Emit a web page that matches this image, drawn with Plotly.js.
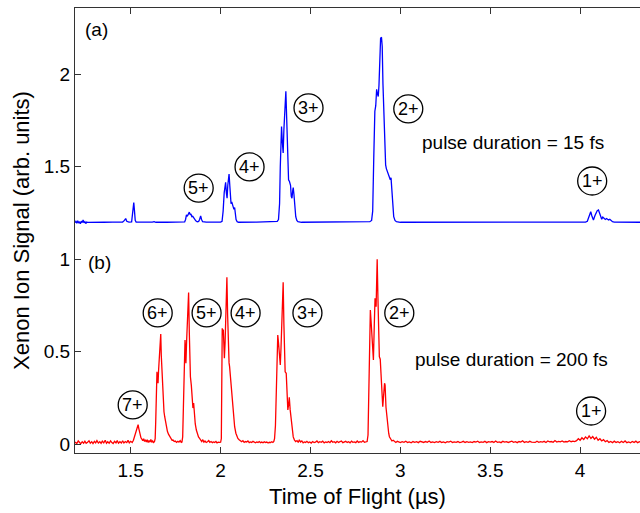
<!DOCTYPE html>
<html>
<head>
<meta charset="utf-8">
<script src="https://cdn.plot.ly/plotly-3.0.1.min.js"></script>
<style>html,body{margin:0;padding:0;background:#fff;}#chart{width:640px;height:513px;}</style>
</head>
<body>
<div id="chart"></div>
<script>
// (a) pulse duration = 15 fs : [time of flight (µs), signal (offset by 1.2)]
const bluePoints = [
[1.19,1.198],[1.195,1.205],[1.20,1.195],[1.205,1.208],[1.21,1.196],[1.215,1.203],[1.22,1.192],[1.225,1.206],
[1.23,1.198],[1.235,1.212],[1.24,1.197],[1.245,1.203],[1.25,1.193],[1.255,1.201],[1.26,1.199],[1.28,1.200],
[1.30,1.201],[1.35,1.200],[1.40,1.201],[1.43,1.200],[1.445,1.203],[1.455,1.201],[1.465,1.210],[1.472,1.220],
[1.478,1.205],[1.49,1.201],[1.505,1.202],[1.510,1.240],[1.514,1.290],[1.517,1.306],[1.521,1.260],[1.525,1.210],
[1.53,1.201],[1.56,1.200],[1.60,1.202],[1.62,1.201],[1.63,1.203],[1.64,1.200],[1.70,1.200],[1.75,1.201],
[1.80,1.202],[1.805,1.215],[1.81,1.240],[1.815,1.232],[1.82,1.245],[1.826,1.255],[1.831,1.240],[1.835,1.245],
[1.84,1.230],[1.845,1.232],[1.85,1.225],[1.856,1.215],[1.862,1.208],[1.87,1.203],[1.878,1.205],[1.883,1.215],
[1.889,1.234],[1.894,1.215],[1.90,1.203],[1.92,1.201],[1.96,1.200],[2.00,1.201],[2.008,1.205],[2.014,1.260],
[2.020,1.360],[2.024,1.400],[2.028,1.416],[2.032,1.360],[2.036,1.330],[2.040,1.400],[2.044,1.440],[2.047,1.461],
[2.051,1.400],[2.055,1.340],[2.058,1.300],[2.062,1.310],[2.066,1.290],[2.070,1.285],[2.074,1.270],[2.078,1.280],
[2.082,1.250],[2.086,1.215],[2.092,1.203],[2.10,1.200],[2.20,1.201],[2.30,1.201],[2.315,1.205],[2.322,1.215],
[2.328,1.300],[2.332,1.500],[2.336,1.680],[2.339,1.717],[2.343,1.640],[2.348,1.574],[2.352,1.700],[2.356,1.820],
[2.360,1.880],[2.363,1.908],[2.367,1.780],[2.371,1.600],[2.375,1.470],[2.378,1.429],[2.383,1.420],[2.389,1.400],
[2.393,1.340],[2.397,1.330],[2.401,1.370],[2.404,1.387],[2.408,1.350],[2.413,1.280],[2.418,1.230],[2.424,1.210],
[2.430,1.203],[2.45,1.200],[2.60,1.200],[2.80,1.202],[2.83,1.203],[2.840,1.210],[2.846,1.260],[2.852,1.550],
[2.858,1.800],[2.863,1.830],[2.868,1.919],[2.872,1.895],[2.877,1.880],[2.881,1.940],[2.886,2.100],[2.890,2.195],
[2.895,2.200],[2.899,2.150],[2.903,1.950],[2.908,1.750],[2.913,1.580],[2.918,1.510],[2.922,1.490],[2.928,1.475],
[2.933,1.455],[2.939,1.447],[2.944,1.430],[2.948,1.440],[2.953,1.380],[2.958,1.300],[2.963,1.230],[2.970,1.210],
[2.978,1.203],[3.00,1.200],[3.50,1.201],[4.00,1.200],[4.03,1.201],[4.04,1.205],[4.048,1.230],[4.055,1.250],
[4.059,1.257],[4.065,1.235],[4.074,1.212],[4.082,1.235],[4.090,1.255],[4.095,1.262],[4.102,1.266],[4.108,1.245],
[4.114,1.225],[4.12,1.216],[4.126,1.228],[4.133,1.222],[4.14,1.215],[4.147,1.220],[4.152,1.218],[4.158,1.212],
[4.165,1.216],[4.172,1.208],[4.18,1.203],[4.19,1.201],[4.25,1.200],[4.34,1.200]
];

// (b) pulse duration = 200 fs : [time of flight (µs), signal]
const redPoints = [
[1.19,0.012],[1.20,0.004],[1.208,0.018],[1.215,0.010],[1.222,0.003],[1.23,0.014],[1.238,0.006],[1.245,0.017],
[1.252,0.005],[1.26,0.011],[1.268,0.019],[1.275,0.006],[1.283,0.014],[1.29,0.004],[1.298,0.016],[1.305,0.008],
[1.312,0.020],[1.32,0.007],[1.328,0.014],[1.335,0.005],[1.342,0.017],[1.35,0.008],[1.358,0.022],[1.365,0.006],
[1.372,0.014],[1.38,0.006],[1.388,0.018],[1.395,0.009],[1.402,0.004],[1.41,0.016],[1.418,0.008],[1.425,0.020],
[1.432,0.006],[1.44,0.014],[1.448,0.007],[1.455,0.019],[1.462,0.007],[1.47,0.015],[1.478,0.009],[1.485,0.021],
[1.492,0.008],[1.50,0.016],[1.508,0.010],[1.515,0.022],[1.52,0.040],[1.527,0.055],[1.532,0.075],[1.537,0.090],
[1.541,0.106],[1.545,0.085],[1.549,0.060],[1.553,0.045],[1.557,0.035],[1.562,0.028],[1.567,0.020],[1.572,0.030],
[1.577,0.015],[1.582,0.024],[1.587,0.012],[1.592,0.025],[1.597,0.010],[1.602,0.020],[1.607,0.012],[1.612,0.026],
[1.617,0.011],[1.622,0.018],[1.627,0.010],[1.632,0.014],[1.636,0.030],[1.639,0.120],[1.643,0.300],[1.646,0.392],
[1.649,0.360],[1.652,0.330],[1.655,0.400],[1.657,0.440],[1.661,0.500],[1.664,0.560],[1.667,0.596],[1.670,0.480],
[1.674,0.380],[1.679,0.257],[1.682,0.200],[1.685,0.176],[1.689,0.149],[1.693,0.120],[1.698,0.095],[1.704,0.070],
[1.710,0.055],[1.717,0.041],[1.724,0.030],[1.730,0.022],[1.735,0.023],[1.742,0.015],[1.748,0.018],[1.755,0.010],
[1.762,0.016],[1.768,0.012],[1.775,0.020],[1.781,0.010],[1.785,0.012],[1.789,0.040],[1.793,0.200],[1.797,0.450],
[1.802,0.564],[1.805,0.500],[1.807,0.438],[1.811,0.560],[1.815,0.680],[1.818,0.760],[1.822,0.820],[1.826,0.600],
[1.830,0.420],[1.832,0.365],[1.837,0.320],[1.841,0.280],[1.843,0.257],[1.846,0.196],[1.850,0.223],[1.854,0.150],
[1.859,0.110],[1.865,0.077],[1.871,0.055],[1.877,0.040],[1.883,0.032],[1.889,0.022],[1.895,0.015],[1.901,0.025],
[1.907,0.012],[1.913,0.018],[1.920,0.010],[1.927,0.014],[1.934,0.020],[1.940,0.011],[1.947,0.015],[1.954,0.009],
[1.960,0.013],[1.967,0.010],[1.974,0.016],[1.980,0.008],[1.987,0.012],[1.994,0.010],[2.000,0.011],[2.004,0.030],
[2.007,0.300],[2.009,0.627],[2.012,0.600],[2.015,0.620],[2.018,0.520],[2.021,0.465],[2.025,0.550],[2.028,0.700],
[2.032,0.820],[2.035,0.903],[2.039,0.700],[2.043,0.456],[2.047,0.440],[2.050,0.420],[2.055,0.360],[2.059,0.294],
[2.063,0.290],[2.067,0.212],[2.072,0.150],[2.078,0.095],[2.085,0.060],[2.090,0.045],[2.096,0.032],[2.103,0.025],
[2.110,0.020],[2.117,0.014],[2.124,0.020],[2.131,0.010],[2.138,0.015],[2.145,0.012],[2.152,0.018],[2.159,0.009],
[2.166,0.013],[2.173,0.010],[2.180,0.016],[2.187,0.011],[2.194,0.008],[2.201,0.013],[2.208,0.010],[2.215,0.015],
[2.222,0.009],[2.229,0.012],[2.236,0.008],[2.243,0.014],[2.250,0.010],[2.257,0.012],[2.264,0.007],[2.271,0.011],
[2.278,0.009],[2.285,0.014],[2.291,0.010],[2.296,0.015],[2.300,0.030],[2.305,0.100],[2.310,0.300],[2.315,0.500],
[2.318,0.591],[2.322,0.550],[2.326,0.480],[2.332,0.429],[2.336,0.520],[2.340,0.650],[2.344,0.760],[2.348,0.876],
[2.352,0.650],[2.356,0.450],[2.359,0.392],[2.365,0.384],[2.370,0.280],[2.374,0.186],[2.379,0.220],[2.382,0.254],
[2.387,0.186],[2.392,0.130],[2.398,0.068],[2.404,0.040],[2.411,0.023],[2.418,0.015],[2.425,0.020],[2.432,0.010],
[2.438,0.024],[2.445,0.012],[2.452,0.018],[2.459,0.008],[2.466,0.013],[2.473,0.010],[2.480,0.016],[2.488,0.009],
[2.496,0.013],[2.504,0.007],[2.512,0.015],[2.520,0.010],[2.528,0.012],[2.536,0.018],[2.544,0.009],[2.552,0.014],
[2.560,0.011],[2.568,0.017],[2.576,0.008],[2.584,0.013],[2.592,0.010],[2.600,0.015],[2.608,0.009],[2.616,0.019],
[2.624,0.011],[2.632,0.014],[2.640,0.008],[2.648,0.016],[2.656,0.010],[2.664,0.013],[2.672,0.018],[2.680,0.009],
[2.688,0.012],[2.696,0.016],[2.704,0.010],[2.712,0.014],[2.720,0.008],[2.728,0.017],[2.736,0.011],[2.744,0.013],
[2.752,0.009],[2.760,0.018],[2.768,0.010],[2.776,0.014],[2.784,0.012],[2.792,0.020],[2.800,0.011],[2.808,0.015],
[2.815,0.015],[2.820,0.050],[2.826,0.300],[2.830,0.600],[2.833,0.726],[2.838,0.650],[2.844,0.520],[2.850,0.456],
[2.855,0.650],[2.859,0.789],[2.862,0.760],[2.865,0.744],[2.868,0.900],[2.871,1.000],[2.875,0.800],[2.880,0.520],
[2.883,0.474],[2.888,0.460],[2.893,0.350],[2.898,0.250],[2.902,0.203],[2.908,0.280],[2.912,0.330],[2.915,0.320],
[2.920,0.200],[2.924,0.149],[2.930,0.090],[2.935,0.060],[2.939,0.041],[2.946,0.025],[2.953,0.018],[2.960,0.022],
[2.967,0.015],[2.975,0.010],[2.983,0.016],[2.99,0.012],[3.00,0.009],[3.01,0.014],[3.02,0.011],[3.03,0.017],
[3.04,0.010],[3.05,0.013],[3.06,0.008],[3.07,0.015],[3.08,0.011],[3.09,0.014],[3.10,0.009],[3.11,0.016],
[3.12,0.012],[3.13,0.010],[3.14,0.015],[3.15,0.011],[3.16,0.018],[3.17,0.010],[3.18,0.013],[3.19,0.009],
[3.20,0.014],[3.21,0.011],[3.22,0.016],[3.23,0.010],[3.24,0.013],[3.25,0.008],[3.26,0.014],[3.27,0.012],
[3.28,0.017],[3.29,0.010],[3.30,0.013],[3.31,0.011],[3.32,0.015],[3.33,0.009],[3.34,0.012],[3.35,0.016],
[3.36,0.010],[3.37,0.014],[3.38,0.011],[3.39,0.013],[3.40,0.009],[3.41,0.015],[3.42,0.012],[3.43,0.017],
[3.44,0.010],[3.45,0.013],[3.46,0.011],[3.47,0.016],[3.48,0.009],[3.49,0.014],[3.50,0.012],[3.51,0.015],
[3.52,0.010],[3.53,0.018],[3.54,0.011],[3.55,0.013],[3.56,0.009],[3.57,0.016],[3.58,0.012],[3.59,0.014],
[3.60,0.010],[3.61,0.013],[3.62,0.017],[3.63,0.011],[3.64,0.014],[3.65,0.009],[3.66,0.015],[3.67,0.012],
[3.68,0.019],[3.69,0.010],[3.70,0.014],[3.71,0.011],[3.72,0.016],[3.73,0.012],[3.74,0.013],[3.75,0.010],
[3.76,0.017],[3.77,0.011],[3.78,0.014],[3.79,0.012],[3.80,0.016],[3.81,0.010],[3.82,0.018],[3.83,0.013],
[3.84,0.015],[3.85,0.011],[3.86,0.020],[3.87,0.012],[3.88,0.016],[3.89,0.013],[3.90,0.018],[3.91,0.012],
[3.92,0.015],[3.93,0.013],[3.94,0.019],[3.95,0.014],[3.96,0.017],[3.97,0.015],[3.98,0.020],[3.99,0.030],
[4.00,0.022],[4.01,0.035],[4.02,0.026],[4.03,0.040],[4.04,0.030],[4.05,0.045],[4.06,0.032],[4.07,0.042],
[4.08,0.028],[4.09,0.038],[4.10,0.022],[4.11,0.030],[4.12,0.018],[4.13,0.025],[4.14,0.014],[4.15,0.020],
[4.16,0.010],[4.17,0.015],[4.18,0.009],[4.19,0.017],[4.20,0.010],[4.21,0.014],[4.22,0.008],[4.23,0.016],
[4.24,0.010],[4.25,0.018],[4.26,0.009],[4.27,0.013],[4.28,0.008],[4.29,0.015],[4.30,0.010],[4.31,0.017],
[4.32,0.009],[4.33,0.014],[4.34,0.012]
];

// Circled charge-state labels
const ionLabels = ["5+","4+","3+","2+","1+","7+","6+","5+","4+","3+","2+","1+"];
const ionLabelX = [1.878,2.161,2.489,3.044,4.067,1.511,1.650,1.922,2.139,2.483,2.994,4.061];
const ionLabelY = [1.385,1.499,1.818,1.813,1.423,0.213,0.710,0.710,0.710,0.710,0.710,0.180];

// Panel tags and pulse-duration notes
const noteText = ["(a)","(b)","pulse duration = 15 fs","pulse duration = 200 fs"];
const noteX = [1.311,1.328,3.628,3.617];
const noteY = [2.240,0.985,1.629,0.456];

const xTicks = [1.5,2,2.5,3,3.5,4];
const xTickText = ["1.5","2","2.5","3","3.5","4"];
const yTicks = [0,0.5,1,1.5,2];
const yTickText = ["0","0.5","1","1.5","2"];

const FONT = "Liberation Sans, Arial, Helvetica, sans-serif";

const traces = [
  {x: bluePoints.map(p=>p[0]), y: bluePoints.map(p=>p[1]), type:"scatter", mode:"lines",
   line:{color:"#0000ff", width:1.3}, hoverinfo:"skip", showlegend:false},
  {x: redPoints.map(p=>p[0]), y: redPoints.map(p=>p[1]), type:"scatter", mode:"lines",
   line:{color:"#ff0000", width:1.3}, hoverinfo:"skip", showlegend:false}
];

const annotations = [];
const shapes = [];
ionLabels.forEach((t,i)=>{
  annotations.push({x:ionLabelX[i], y:ionLabelY[i], xref:"x", yref:"y", text:t, showarrow:false,
    font:{family:FONT, size:18, color:"#000"}, xanchor:"center", yanchor:"middle"});
  shapes.push({type:"circle", xref:"x", yref:"y", xsizemode:"pixel", ysizemode:"pixel",
    xanchor:ionLabelX[i], yanchor:ionLabelY[i], x0:-14.5, x1:14.5, y0:-14, y1:14,
    line:{color:"#000", width:1.3}});
});
noteText.forEach((t,i)=>{
  annotations.push({x:noteX[i], y:noteY[i], xref:"x", yref:"y", text:t, showarrow:false,
    font:{family:FONT, size:19, color:"#000"}, xanchor:"center", yanchor:"middle"});
});

const layout = {
  width:640, height:513,
  margin:{l:75, r:0, t:8, b:60},
  paper_bgcolor:"#fff", plot_bgcolor:"#fff",
  font:{family:FONT, size:19, color:"#000"},
  xaxis:{range:[1.19,4.333], tickvals:xTicks, ticktext:xTickText, ticks:"inside", ticklen:6,
    tickcolor:"#333", showline:true, linecolor:"#333", linewidth:1, mirror:"ticks",
    showgrid:false, zeroline:false, tickfont:{size:19},
    title:{text:"Time of Flight (µs)", font:{size:22}, standoff:8}},
  yaxis:{range:[-0.047,2.358], tickvals:yTicks, ticktext:yTickText, ticks:"inside", ticklen:6,
    tickcolor:"#333", showline:true, linecolor:"#333", linewidth:1, mirror:false,
    showgrid:false, zeroline:false, tickfont:{size:19},
    title:{text:"Xenon Ion Signal (arb. units)", font:{size:22}, standoff:8}},
  annotations:annotations,
  shapes:shapes
};

Plotly.newPlot("chart", traces, layout, {staticPlot:true, displayModeBar:false});
</script>
</body>
</html>
